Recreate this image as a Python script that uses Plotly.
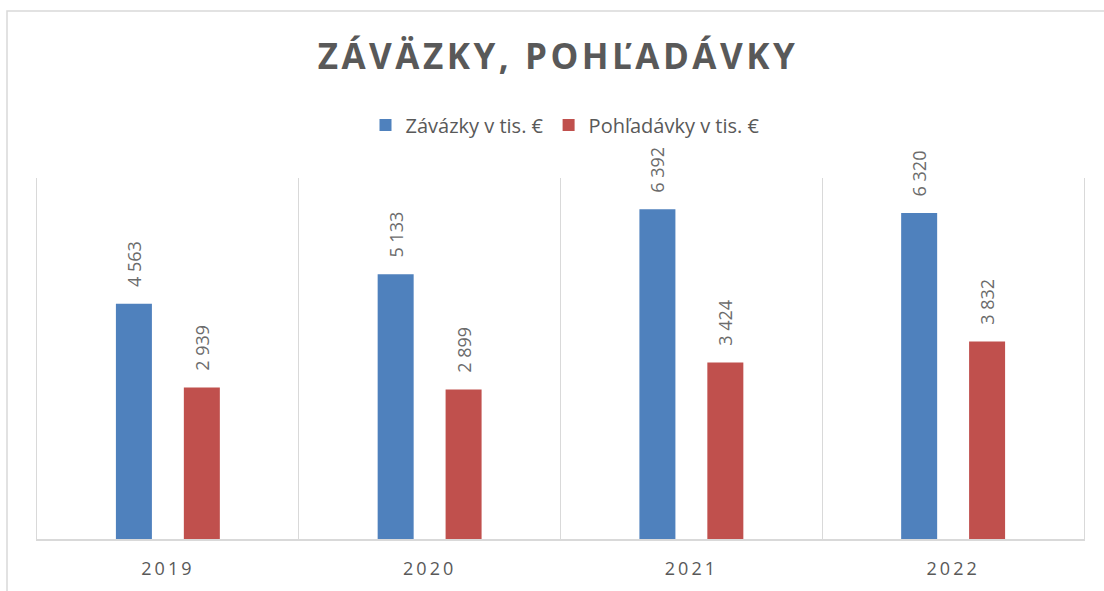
import plotly.graph_objects as go

# ---- data ----
years = ["2019", "2020", "2021", "2022"]
zavazky = [4563, 5133, 6392, 6320]
pohladavky = [2939, 2899, 3424, 3832]
series_names = ["Závázky v tis. €", "Pohľadávky v tis. €"]
title_text = "ZÁVÄZKY, POHĽADÁVKY"

# ---- style ----
W, H = 1104, 591
ML, MR, MT, MB = 37, 20, 178, 52
PW, PH = W - ML - MR, H - MT - MB
TXT = "#595959"
GRID = "#d9d9d9"
FONT = "Open Sans"

def px_to_paper_x(px):
    return (px - ML) / PW

def px_to_paper_y(py):
    return (H - MB - py) / PH

def spaced(s, sp):
    return f'<span style="letter-spacing:{sp}px">{s}</span>'

fig = go.Figure()
colors = ["#4f81bd", "#c0504d"]
for name, vals, col in zip(series_names, [zavazky, pohladavky], colors):
    fig.add_trace(go.Bar(
        x=years, y=vals, name=name,
        marker=dict(color=col, line=dict(width=0)),
        texttemplate="\u2002\u00a0%{y:,}",
        textposition="outside",
        textangle=-90,
        textfont=dict(family=FONT, size=18, color="#6b6b6b"),
        cliponaxis=False,
        constraintext="none",
    ))

fig.update_layout(
    width=W, height=H,
    margin=dict(l=ML, r=MR, t=MT, b=MB, pad=0),
    paper_bgcolor="white", plot_bgcolor="white",
    separators=", ",
    barmode="group",
    bargap=0.481,
    bargroupgap=0.47,
    font=dict(family=FONT, color=TXT),
    title=dict(
        text="<b>" + spaced(title_text, 3.5) + "</b>",
        x=558 / W, xanchor="center",
        y=1 - 57 / H, yanchor="middle",
        font=dict(family=FONT, size=35, color=TXT),
    ),
    showlegend=True,
    legend=dict(
        orientation="h",
        x=px_to_paper_x(565), xanchor="center",
        y=px_to_paper_y(125), yanchor="middle",
        font=dict(family=FONT, size=20, color=TXT),
        itemsizing="constant",
        itemwidth=30,
        traceorder="normal",
    ),
    xaxis=dict(
        type="category",
        tickmode="array", tickvals=years,
        ticktext=[spaced(y, 3) for y in years],
        tickson="boundaries",
        showgrid=True, gridcolor=GRID, gridwidth=1.3,
        showline=True, linecolor=GRID, linewidth=1.5,
        ticks="", ticklabelstandoff=13,
        tickfont=dict(family=FONT, size=18, color=TXT),
        range=[-0.5, 3.5],
        zeroline=False,
    ),
    yaxis=dict(
        range=[0, 7000],
        showgrid=False, zeroline=False,
        showticklabels=False, ticks="",
        showline=True, mirror=True, linecolor=GRID, linewidth=1.3,
    ),
    shapes=[dict(
        type="rect", xref="paper", yref="paper",
        x0=px_to_paper_x(7), x1=px_to_paper_x(W + 20),
        y0=px_to_paper_y(H + 20), y1=px_to_paper_y(11),
        line=dict(color=GRID, width=1.5), fillcolor="rgba(0,0,0,0)",
        layer="below",
    )],
)

fig.write_html(
    "out.html",
    config={"displayModeBar": False},
    post_script="document.body.style.margin='0';document.body.style.overflow='hidden';",
)
